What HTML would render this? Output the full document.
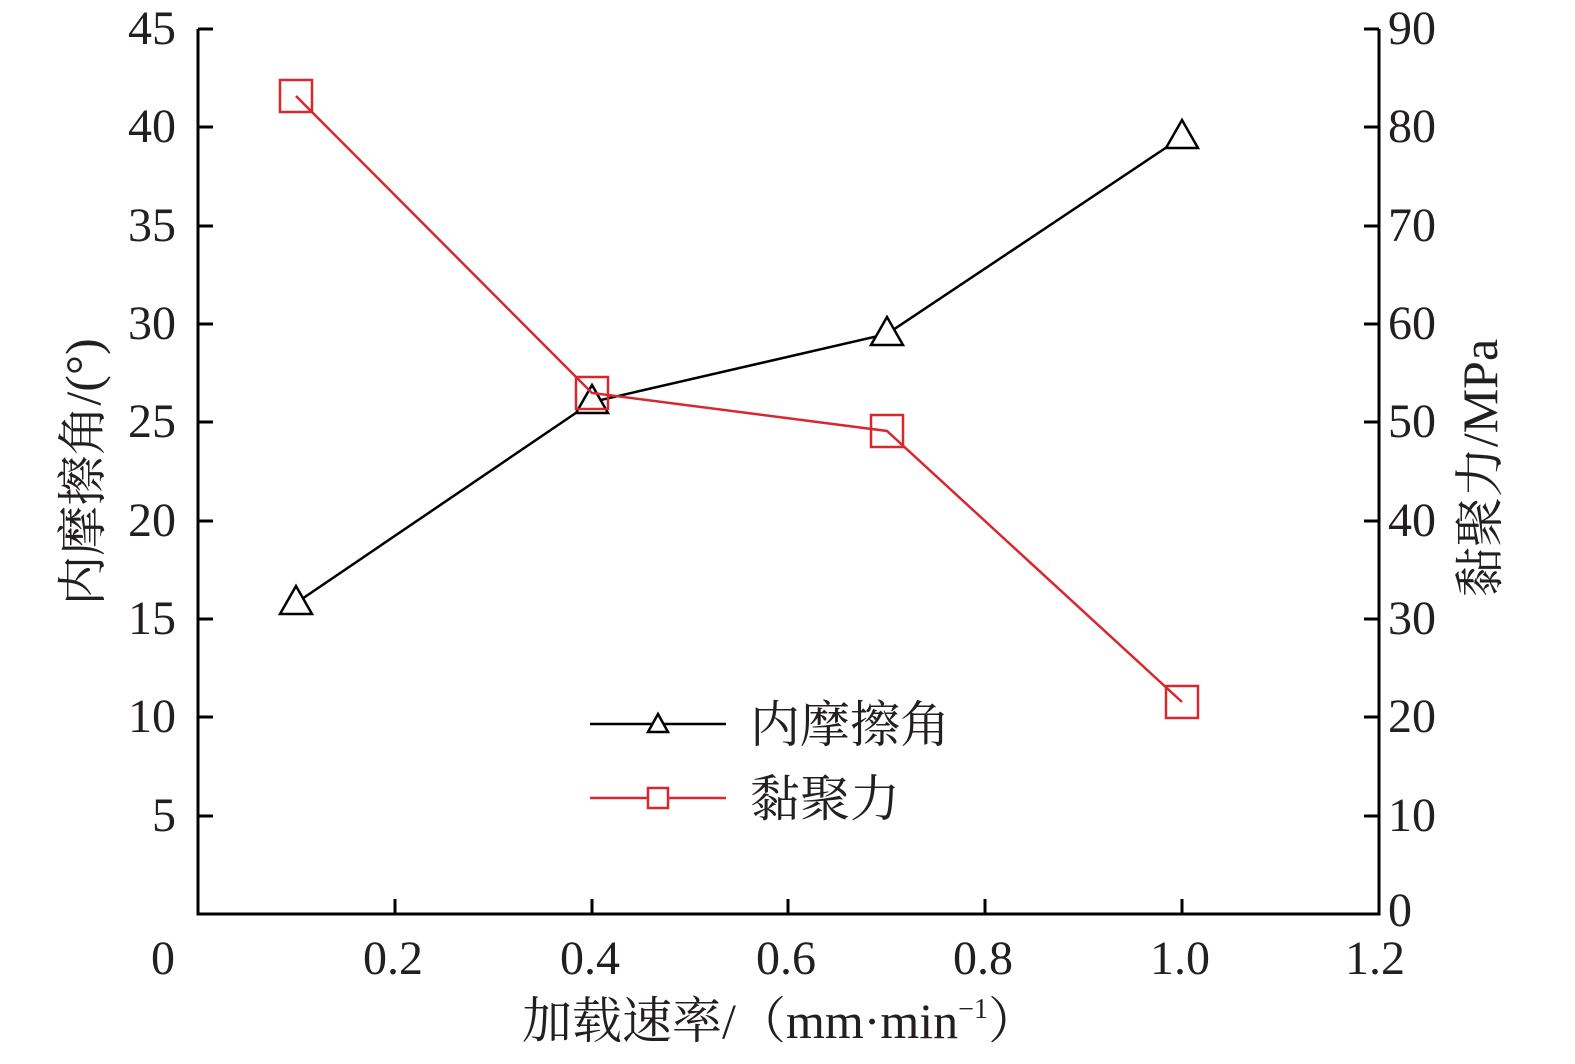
<!DOCTYPE html>
<html><head><meta charset="utf-8"><style>
html,body{margin:0;padding:0;background:#fff;}
svg text{font-family:"Liberation Serif","Noto Serif CJK SC",serif;fill:#231f20;}
</style></head><body>
<svg width="1575" height="1059" viewBox="0 0 1575 1059" xmlns="http://www.w3.org/2000/svg">
<g stroke="#000" stroke-width="3" fill="none">
<polyline points="198,29 198,914 1379,914 1379,29"/>
<line x1="198" y1="29" x2="213" y2="29"/>
<line x1="198" y1="127" x2="213" y2="127"/>
<line x1="198" y1="226" x2="213" y2="226"/>
<line x1="198" y1="324" x2="213" y2="324"/>
<line x1="198" y1="422" x2="213" y2="422"/>
<line x1="198" y1="521" x2="213" y2="521"/>
<line x1="198" y1="619" x2="213" y2="619"/>
<line x1="198" y1="717" x2="213" y2="717"/>
<line x1="198" y1="816" x2="213" y2="816"/>
<line x1="1379" y1="29" x2="1364" y2="29"/>
<line x1="1379" y1="127" x2="1364" y2="127"/>
<line x1="1379" y1="226" x2="1364" y2="226"/>
<line x1="1379" y1="324" x2="1364" y2="324"/>
<line x1="1379" y1="422" x2="1364" y2="422"/>
<line x1="1379" y1="521" x2="1364" y2="521"/>
<line x1="1379" y1="619" x2="1364" y2="619"/>
<line x1="1379" y1="717" x2="1364" y2="717"/>
<line x1="1379" y1="816" x2="1364" y2="816"/>
<line x1="395" y1="914" x2="395" y2="899"/>
<line x1="592" y1="914" x2="592" y2="899"/>
<line x1="788" y1="914" x2="788" y2="899"/>
<line x1="985" y1="914" x2="985" y2="899"/>
<line x1="1182" y1="914" x2="1182" y2="899"/>
</g>
<g font-size="48" text-anchor="end">
<text x="176" y="44">45</text><text x="176" y="142">40</text><text x="176" y="241">35</text>
<text x="176" y="339">30</text><text x="176" y="437">25</text><text x="176" y="536">20</text>
<text x="176" y="634">15</text><text x="176" y="732">10</text><text x="176" y="831">5</text>
</g>
<g font-size="48" text-anchor="start">
<text x="1388" y="44">90</text><text x="1388" y="142">80</text><text x="1388" y="241">70</text>
<text x="1388" y="339">60</text><text x="1388" y="437">50</text><text x="1388" y="536">40</text>
<text x="1388" y="634">30</text><text x="1388" y="732">20</text><text x="1388" y="831">10</text>
<text x="1388" y="926">0</text>
</g>
<g font-size="48" text-anchor="middle">
<text x="163" y="974">0</text><text x="393" y="974">0.2</text><text x="590" y="974">0.4</text>
<text x="786" y="974">0.6</text><text x="983" y="974">0.8</text><text x="1180" y="974">1.0</text>
<text x="1375" y="974">1.2</text>
</g>
<text x="780" y="1038" font-size="50" text-anchor="middle">加载速率/（mm·min<tspan font-size="28" dy="-20">−1</tspan><tspan dy="20">）</tspan></text>
<text transform="translate(100,472) rotate(-90)" font-size="50" text-anchor="middle">内摩擦角/(°)</text>
<text transform="translate(1497,468) rotate(-90)" font-size="50" text-anchor="middle">黏聚力/MPa</text>
<polyline points="296,603 592,402 887,334 1182,137" fill="none" stroke="#000" stroke-width="2.5"/>
<g fill="#fff" stroke="#000" stroke-width="2.5">
<polygon points="296,586 280,614 312,614"/>
<polygon points="592,385 576,413 608,413"/>
<polygon points="887,317 871,345 903,345"/>
<polygon points="1182,120 1166,148 1198,148"/>
</g>
<polyline points="296,96 592,393 887,431 1182,702" fill="none" stroke="#d7282f" stroke-width="2.5"/>
<g fill="none" stroke="#d7282f" stroke-width="2.5">
<rect x="280" y="80" width="32" height="32"/>
<rect x="576" y="377" width="32" height="32"/>
<rect x="871" y="415" width="32" height="32"/>
<rect x="1166" y="686" width="32" height="32"/>
</g>
<line x1="590" y1="724" x2="726" y2="724" stroke="#000" stroke-width="2.5"/>
<polygon points="658,714 648,732 668,732" fill="#fff" stroke="#000" stroke-width="2.5"/>
<line x1="590" y1="798" x2="726" y2="798" stroke="#d7282f" stroke-width="2.5"/>
<rect x="648" y="788" width="20" height="20" fill="#fff" stroke="#d7282f" stroke-width="2.5"/>
<text x="750" y="742" font-size="50">内摩擦角</text>
<text x="750" y="816" font-size="50">黏聚力</text>
</svg>
</body></html>
